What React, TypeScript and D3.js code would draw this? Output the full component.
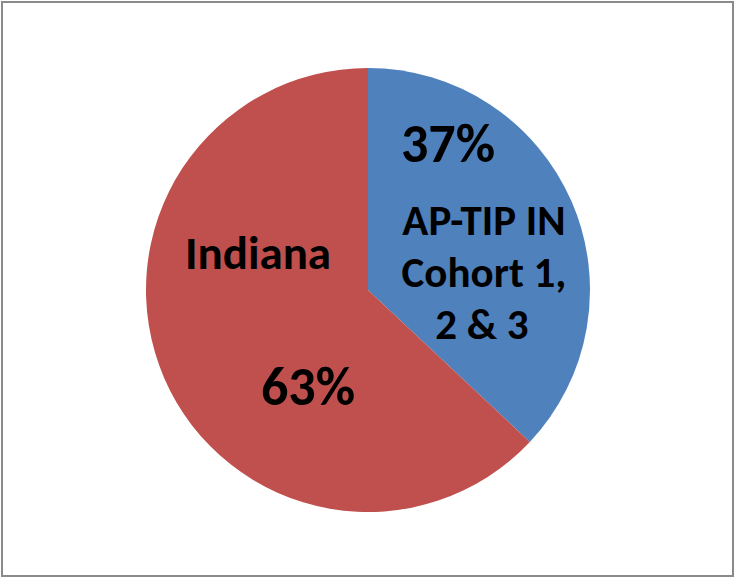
import React from "react";
import * as d3 from "d3";

const categories = ["AP-TIP IN Cohort 1, 2 & 3", "Indiana"];
const values = [37, 63];
const labelLines = [["AP-TIP IN", "Cohort 1,", "2 & 3"], ["Indiana"]];
const percentLabels = ["37%", "63%"];
const colors = ["#4F81BD", "#C0504D"];

const W = 734;
const H = 577;
const cx = 368;
const cy = 290;
const R = 222;

export default function App() {
  const pie = d3.pie<number>().sort(null).startAngle(0).endAngle(2 * Math.PI).value((d) => d);
  const arcs = pie(values);
  const arc = d3.arc<d3.PieArcDatum<number>>().innerRadius(0).outerRadius(R);
  const font = "Carlito, Calibri, Lato, 'DejaVu Sans', sans-serif";
  return (
    <svg width={W} height={H} style={{ position: "absolute", left: 0, top: 0 }}>
      <rect x={0} y={0} width={W} height={H} fill="#fff" />
      <rect x={2} y={2} width={731} height={574} fill="none" stroke="#8a8a8a" strokeWidth={2} />
      <g transform={`translate(${cx},${cy})`}>
        {arcs.map((a, i) => (
          <path key={categories[i]} d={arc(a) || ""} fill={colors[i]} />
        ))}
      </g>
      <g fontFamily={font} fontWeight="bold" fill="#000" textAnchor="middle">
        <text x={448} y={162} fontSize={54}>{percentLabels[0]}</text>
        <text x={484} y={235} fontSize={43}>{labelLines[0][0]}</text>
        <text x={484} y={287} fontSize={43}>{labelLines[0][1]}</text>
        <text x={482} y={339} fontSize={43}>{labelLines[0][2]}</text>
        <text x={258} y={269} fontSize={47}>{labelLines[1][0]}</text>
        <text x={308} y={405} fontSize={54}>{percentLabels[1]}</text>
      </g>
    </svg>
  );
}
